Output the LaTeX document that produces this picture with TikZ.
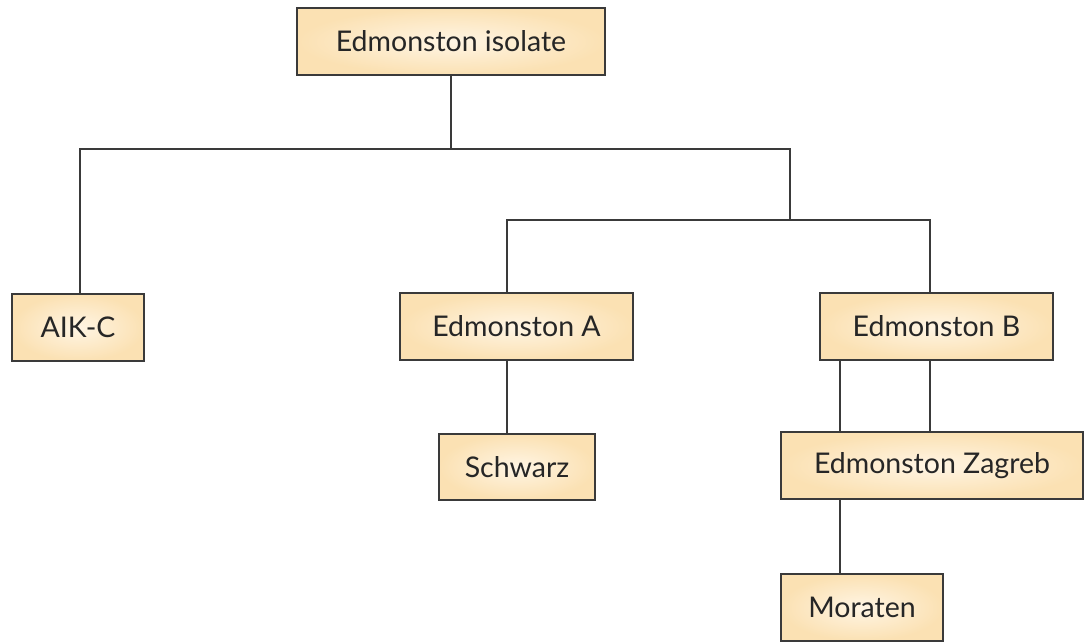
\documentclass[tikz,border=0pt]{standalone}
\usepackage{fontspec}
\setmainfont{Lato}
\definecolor{boxout}{HTML}{FBE1B3}
\definecolor{boxin}{HTML}{FFF5E4}
\definecolor{edge}{HTML}{3A3A3A}
\begin{document}
\begin{tikzpicture}[x=1pt,y=-1pt,
  box/.style={draw=edge,line width=1.4pt,inner color=boxin,outer color=boxout,
    minimum height=67pt,inner sep=0pt,font=\fontsize{28.5}{32}\selectfont,text=black!85},
  link/.style={draw=edge,line width=1.4pt}]
\useasboundingbox (0,0) rectangle (1084,641);
\node[box,minimum width=308pt] (iso) at (451,41.5) {Edmonston isolate};
\node[box,minimum width=132pt] (aik) at (78,327.5) {AIK-C};
\node[box,minimum width=233pt] (ea) at (516.5,326.5) {Edmonston A};
\node[box,minimum width=233pt] (eb) at (936.5,326.5) {Edmonston B};
\node[box,minimum width=156pt,minimum height=66pt] (sch) at (517,467) {Schwarz};
\node[box,minimum width=302pt] (ez) at (932,465.5) {Edmonston Zagreb};
\node[box,minimum width=162pt] (mor) at (862,607.5) {Moraten};
\coordinate (j1) at (451,149);
\coordinate (j1l) at (80,149);
\coordinate (j1r) at (790,149);
\coordinate (j2) at (790,221);
\coordinate (j2l) at (507,220);
\coordinate (j2r) at (930,220);
\draw[link] (iso.south) -- (j1);
\draw[link] (aik.north -| j1l) -- (j1l) -- (j1r) -- (j2);
\draw[link] (ea.north -| j2l) -- (j2l) -- (j2r) -- (eb.north -| j2r);
\draw[link] (ea.south -| j2l) -- (sch.north -| j2l);
\draw[link] (eb.south -| 840,0) -- (ez.north -| 840,0);
\draw[link] (eb.south -| j2r) -- (ez.north -| j2r);
\draw[link] (ez.south -| 840,0) -- (mor.north -| 840,0);
\end{tikzpicture}
\end{document}
